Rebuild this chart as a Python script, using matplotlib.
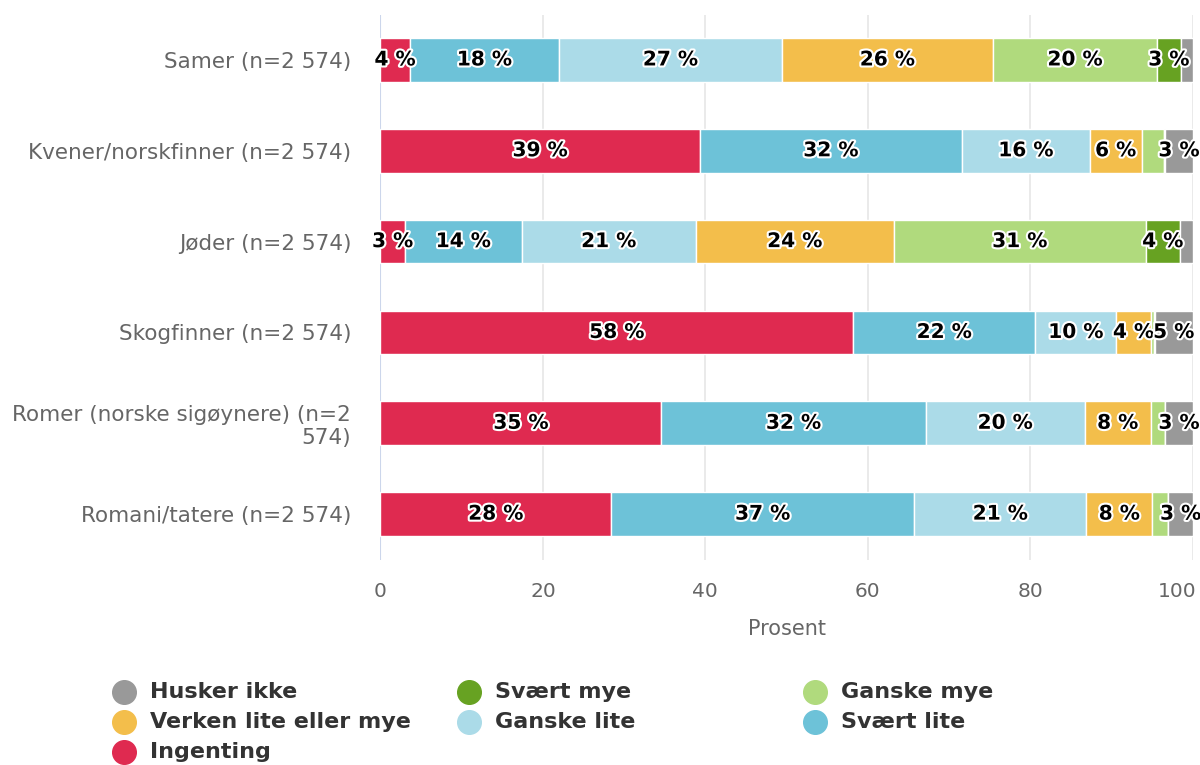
import numpy as np
import matplotlib.pyplot as plt
import matplotlib.patheffects as pe
import matplotlib.transforms as mtransforms
from matplotlib.lines import Line2D

# Kategorier (ovenfra og ned)
kategorier = ["Samer (n=2 574)", "Kvener/norskfinner (n=2 574)", "Jøder (n=2 574)",
              "Skogfinner (n=2 574)", "Romer (norske sigøynere) (n=2\n574)",
              "Romani/tatere (n=2 574)"]

# Prosentverdier per svaralternativ
ingenting = [3.6, 39.3, 3.0, 58.2, 34.6, 28.4]
svaert_lite = [18.4, 32.3, 14.4, 22.4, 32.5, 37.3]
ganske_lite = [27.4, 15.7, 21.4, 10.0, 19.6, 21.2]
verken = [26.0, 6.4, 24.4, 4.2, 8.1, 8.1]
ganske_mye = [20.2, 2.7, 31.0, 0.4, 1.8, 2.0]
svaert_mye = [2.9, 0.2, 4.2, 0.1, 0.0, 0.0]
husker_ikke = [1.5, 3.4, 1.6, 4.7, 3.4, 3.0]

serier = ["Ingenting", "Svært lite", "Ganske lite", "Verken lite eller mye",
          "Ganske mye", "Svært mye", "Husker ikke"]
verdier = [ingenting, svaert_lite, ganske_lite, verken, ganske_mye, svaert_mye, husker_ikke]
farger = ["#df2a50", "#6dc2d8", "#abdbe8", "#f3be4b", "#b0da7d", "#67a222", "#999999"]

# rekkefølge i legenden (rad for rad, tre kolonner)
legende_rekke = ["Husker ikke", "Svært mye", "Ganske mye",
                 "Verken lite eller mye", "Ganske lite", "Svært lite",
                 "Ingenting"]

fig = plt.figure(figsize=(12, 7.65), dpi=100)
ax = fig.add_axes([0.317, 0.2686, 0.677, 0.7124])

y = np.arange(len(kategorier))
venstre = np.zeros(len(kategorier))
for navn, v, c in zip(serier, verdier, farger):
    v = np.array(v)
    ax.barh(y, v, left=venstre, height=0.48, color=c, edgecolor="white",
            linewidth=1, zorder=3)
    for yi, (l, w) in enumerate(zip(venstre, v)):
        if w >= 2.8:
            ax.text(l + w / 2, yi, f"{round(w):.0f} %", ha="center", va="center",
                    fontsize=14.5, fontweight="bold", color="black", zorder=4,
                    path_effects=[pe.withStroke(linewidth=3, foreground="white")])
    venstre += v

ax.set_xlim(0, 100)
ax.set_ylim(len(kategorier) - 0.5, -0.5)
ax.set_yticks(y)
ax.set_yticklabels(kategorier, fontsize=15.5, color="#666666")
ax.set_xticks([0, 20, 40, 60, 80, 100])
ax.tick_params(axis="x", labelsize=14.5, labelcolor="#666666", length=0, pad=16)
ax.tick_params(axis="y", length=0, pad=21)
ax.set_xlabel("Prosent", fontsize=15, color="#666666", labelpad=13)

# siste etikett skyves inn så den ikke kuttes
siste = ax.get_xticklabels()[-1]
siste.set_horizontalalignment("right")
siste.set_transform(siste.get_transform() +
                    mtransforms.ScaledTranslation(4 / 100, 0, fig.dpi_scale_trans))

for x in [20, 40, 60, 80, 100]:
    ax.axvline(x, color="#e6e6e6", linewidth=1.2, zorder=1)
ax.axvline(0, color="#ccd6eb", linewidth=1.5, zorder=2)
for s in ax.spines.values():
    s.set_visible(False)

# Legende
kol_x = [124 / 1200, 469 / 1200, 815 / 1200]
rad_y = [1 - 692 / 765, 1 - 722 / 765, 1 - 752 / 765]
for i, navn in enumerate(legende_rekke):
    r, k = divmod(i, 3)
    c = farger[serier.index(navn)]
    fig.add_artist(Line2D([kol_x[k]], [rad_y[r]], marker="o", markersize=17,
                          color=c, linestyle="none", transform=fig.transFigure))
    fig.text(kol_x[k] + 26 / 1200, rad_y[r], navn, fontsize=16, fontweight="bold",
             color="#333333", va="center", ha="left")

fig.savefig("out.png", dpi=100)
